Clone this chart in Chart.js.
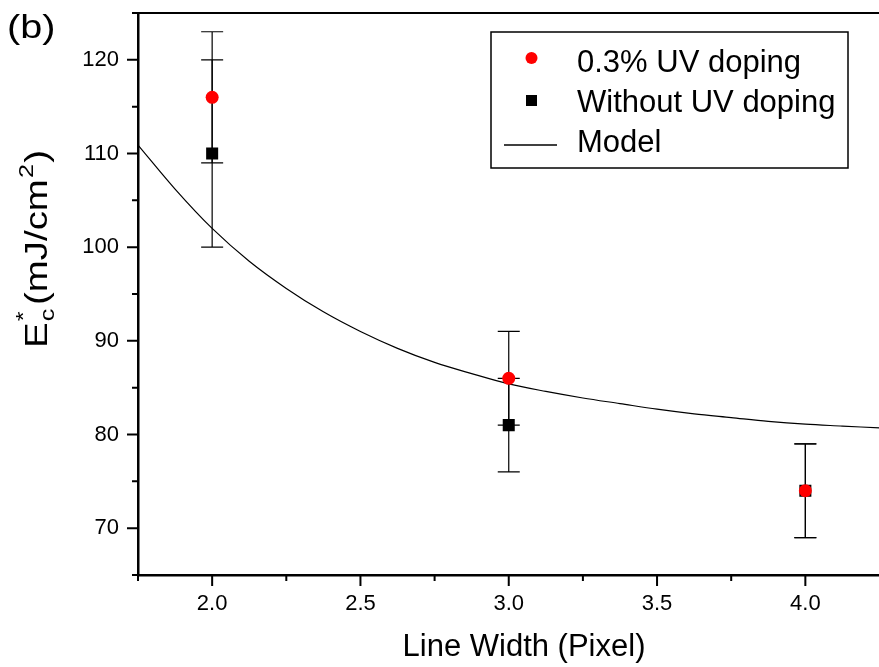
<!DOCTYPE html>
<html lang="en">
<head>
  <meta charset="UTF-8" />
  <title>Ec* vs Line Width</title>
  <script src="https://cdn.jsdelivr.net/npm/chart.js"></script>
  <style>
    body {
      margin: 0;
      background-color: #fff;
      overflow: hidden;
    }

    #wrap {
      width: 888px;
      height: 667px;
    }
  </style>
</head>
<body>
  <div id="wrap"><canvas id="myChart" width="888" height="667"></canvas></div>

  <script>
    // data
    const lineWidths = [2.0, 3.0, 4.0];
    const uvDoped = [116, 86, 74];
    const uvDopedErr = [7, 5, 5];
    const noDoping = [110, 81, 74];
    const noDopingErr = [10, 5, 5];

    const modelX = [1.75, 1.875, 2.0, 2.125, 2.25, 2.375, 2.5, 2.625, 2.75, 2.875, 3.0,
                    3.125, 3.25, 3.375, 3.5, 3.625, 3.75, 3.875, 4.0, 4.125, 4.25];
    const modelY = [110.9, 106.2, 102.0, 98.5, 95.6, 93.1, 91.0, 89.2, 87.7, 86.5, 85.4,
                    84.6, 83.9, 83.3, 82.7, 82.2, 81.8, 81.4, 81.1, 80.9, 80.7];

    const xTicks = [2.0, 2.5, 3.0, 3.5, 4.0];
    const xMinor = [1.75, 2.25, 2.75, 3.25, 3.75];
    const yTicks = [70, 80, 90, 100, 110, 120];
    const yMinor = [65, 75, 85, 95, 105, 115, 125];

    const FONT = '"Liberation Sans", Arial, sans-serif';

    const toPoints = (xs, ys) => xs.map((x, i) => ({ x: x, y: ys[i] }));

    // error bars, tick marks, titles and the boxed legend
    const extras = {
      id: 'extras',
      beforeDatasetsDraw(chart) {
        const ctx = chart.ctx;
        const xs = chart.scales.x, ys = chart.scales.y;
        ctx.save();
        ctx.strokeStyle = '#000';
        ctx.lineWidth = 1.2;
        chart.data.datasets.forEach(ds => {
          if (!ds.err) return;
          ds.data.forEach((p, i) => {
            const px = xs.getPixelForValue(p.x);
            const top = ys.getPixelForValue(p.y + ds.err[i]);
            const bot = ys.getPixelForValue(p.y - ds.err[i]);
            ctx.beginPath();
            ctx.moveTo(px, top); ctx.lineTo(px, bot);
            ctx.moveTo(px - 11, top); ctx.lineTo(px + 11, top);
            ctx.moveTo(px - 11, bot); ctx.lineTo(px + 11, bot);
            ctx.stroke();
          });
        });
        ctx.restore();
      },
      afterDraw(chart) {
        const ctx = chart.ctx;
        const area = chart.chartArea;
        const xs = chart.scales.x, ys = chart.scales.y;
        ctx.save();
        ctx.strokeStyle = '#000';
        ctx.fillStyle = '#000';

        // top frame line
        ctx.lineWidth = 2;
        ctx.beginPath();
        ctx.moveTo(area.left, area.top);
        ctx.lineTo(area.right, area.top);
        ctx.stroke();

        // tick marks
        ctx.lineWidth = 2;
        ctx.beginPath();
        yTicks.forEach(v => { const y = ys.getPixelForValue(v); ctx.moveTo(area.left - 11, y); ctx.lineTo(area.left, y); });
        yMinor.forEach(v => { const y = ys.getPixelForValue(v); ctx.moveTo(area.left - 6, y); ctx.lineTo(area.left, y); });
        xTicks.forEach(v => { const x = xs.getPixelForValue(v); ctx.moveTo(x, area.bottom); ctx.lineTo(x, area.bottom + 11); });
        xMinor.forEach(v => { const x = xs.getPixelForValue(v); ctx.moveTo(x, area.bottom); ctx.lineTo(x, area.bottom + 6); });
        ctx.stroke();

        // x title
        ctx.font = '31px ' + FONT;
        ctx.textAlign = 'center';
        ctx.textBaseline = 'alphabetic';
        ctx.fillText('Line Width (Pixel)', 524, 656);

        // y title: Ec*(mJ/cm2), rotated
        ctx.save();
        ctx.translate(47, 348);
        ctx.rotate(-Math.PI / 2);
        ctx.scale(1.2, 1);
        ctx.textAlign = 'left';
        let x = 0;
        ctx.font = '32px ' + FONT;
        ctx.fillText('E', x, 0);
        x += ctx.measureText('E').width + 1;
        ctx.font = '21px ' + FONT;
        ctx.fillText('c', x, 7);
        ctx.fillText('*', x, -17);
        x += ctx.measureText('c').width + 3;
        ctx.font = '32px ' + FONT;
        ctx.fillText('(mJ/cm', x, 0);
        x += ctx.measureText('(mJ/cm').width + 1;
        ctx.font = '21px ' + FONT;
        ctx.fillText('2', x, -14);
        x += ctx.measureText('2').width + 1;
        ctx.font = '32px ' + FONT;
        ctx.fillText(')', x, 0);
        ctx.restore();

        // panel label
        ctx.save();
        ctx.translate(7, 38);
        ctx.scale(1.2, 1);
        ctx.font = '33px ' + FONT;
        ctx.textAlign = 'left';
        ctx.fillText('(b)', 0, 0);
        ctx.restore();

        // legend box
        ctx.lineWidth = 1.5;
        ctx.strokeRect(491, 32, 357, 136);
        ctx.font = '31px ' + FONT;
        ctx.textAlign = 'left';
        const rows = [72, 112, 152];
        chart.data.datasets.forEach((ds, i) => {
          const cy = rows[i] - 12;
          if (ds.showLine) {
            ctx.strokeStyle = ds.borderColor;
            ctx.lineWidth = 1.5;
            ctx.beginPath();
            ctx.moveTo(504, cy + 5); ctx.lineTo(557, cy + 5);
            ctx.stroke();
          } else if (ds.pointStyle === 'rect') {
            ctx.fillStyle = ds.backgroundColor;
            ctx.fillRect(526, cy - 5, 11, 11);
          } else {
            ctx.fillStyle = ds.backgroundColor;
            ctx.beginPath();
            ctx.arc(531.5, cy - 2, 6, 0, Math.PI * 2);
            ctx.fill();
          }
          ctx.fillStyle = '#000';
          ctx.fillText(ds.label, 577, rows[i]);
        });
        ctx.restore();
      }
    };

    const ctx = document.getElementById('myChart').getContext('2d');
    new Chart(ctx, {
      type: 'scatter',
      data: {
        datasets: [
          {
            label: '0.3% UV doping',
            data: toPoints(lineWidths, uvDoped),
            err: uvDopedErr,
            pointStyle: 'circle',
            pointRadius: 6.5,
            backgroundColor: '#ff0000',
            borderColor: '#ff0000',
            borderWidth: 0
          },
          {
            label: 'Without UV doping',
            data: toPoints(lineWidths, noDoping),
            err: noDopingErr,
            pointStyle: 'rect',
            pointRadius: 8.5,
            backgroundColor: '#000000',
            borderColor: '#000000',
            borderWidth: 0
          },
          {
            label: 'Model',
            data: toPoints(modelX, modelY),
            showLine: true,
            pointRadius: 0,
            borderColor: '#000000',
            borderWidth: 1.2,
            cubicInterpolationMode: 'monotone'
          }
        ]
      },
      options: {
        responsive: false,
        animation: false,
        layout: { padding: { top: 13, left: 0, right: 0, bottom: 0 } },
        scales: {
          x: {
            type: 'linear',
            min: 1.75,
            max: 4.25,
            afterFit: s => { s.height = 92; s.paddingLeft = 0; s.paddingRight = 0; },
            afterBuildTicks: s => { s.ticks = xTicks.map(v => ({ value: v })); },
            border: { display: true, color: '#000', width: 2.5 },
            grid: { display: true, drawOnChartArea: false, drawTicks: false },
            ticks: {
              color: '#000',
              padding: 16,
              font: { family: FONT, size: 22 },
              callback: v => v.toFixed(1)
            }
          },
          y: {
            min: 65,
            max: 125,
            afterFit: s => { s.width = 138; s.paddingTop = 0; s.paddingBottom = 0; },
            afterBuildTicks: s => { s.ticks = yTicks.map(v => ({ value: v })); },
            border: { display: true, color: '#000', width: 2.5 },
            grid: { display: true, drawOnChartArea: false, drawTicks: false },
            ticks: {
              color: '#000',
              padding: 19,
              font: { family: FONT, size: 22 }
            }
          }
        },
        plugins: {
          legend: { display: false },
          tooltip: { enabled: false }
        }
      },
      plugins: [extras]
    });
  </script>
</body>
</html>
